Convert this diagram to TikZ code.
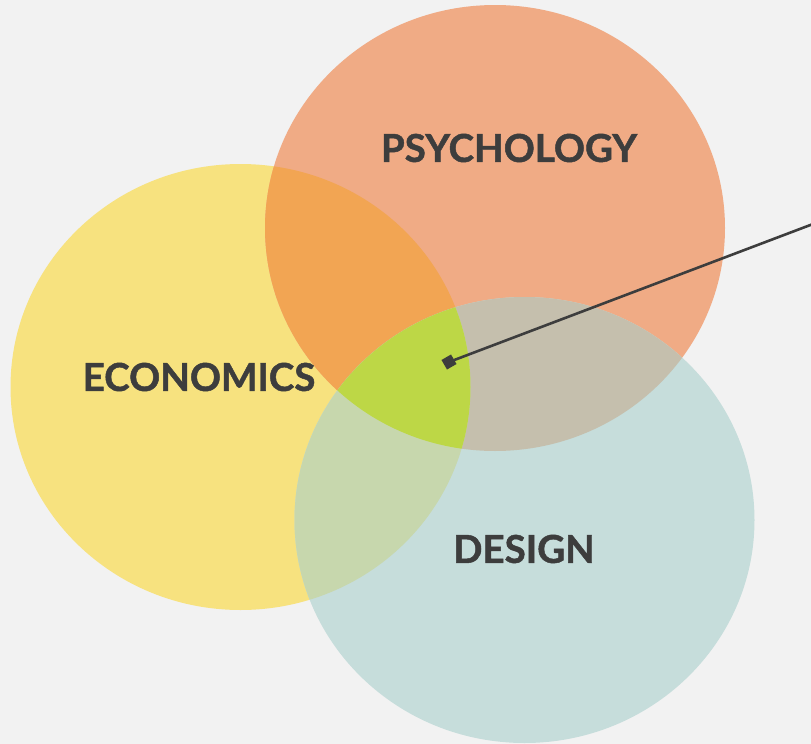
\documentclass[tikz,border=0pt]{standalone}
\usepackage{fontspec}
\setmainfont{Lato}
\newfontfamily\lblfont{Lato}[BoldFeatures={FakeBold=1.2}]
\definecolor{bg}{HTML}{F2F2F2}
\definecolor{psy}{HTML}{F0AB85}
\definecolor{eco}{HTML}{F7E27F}
\definecolor{des}{HTML}{C6DDDB}
\definecolor{ecopsy}{HTML}{F2A553}
\definecolor{psydes}{HTML}{C5BFAD}
\definecolor{ecodes}{HTML}{C7D7AD}
\definecolor{allthree}{HTML}{BDD746}
\definecolor{ink}{HTML}{3D3D3D}
\begin{document}
\begin{tikzpicture}[x=1pt,y=-1pt,
  lbl/.style={font=\lblfont\fontsize{38.5}{38.5}\selectfont\bfseries, text=ink, inner sep=0pt},
  mkstyle/.style={draw=none, fill=ink, minimum size=11pt, inner sep=0pt, rotate=30},
  conn/.style={draw=ink, line width=2.6pt}]
\fill[bg] (0,0) rectangle (811,744);
\useasboundingbox (0,0) rectangle (811,744);
\def\cpsy{(495,228) ellipse [x radius=230pt, y radius=223pt]}
\def\ceco{(240.5,387) ellipse [x radius=230pt, y radius=223pt]}
\def\cdes{(524.5,520) ellipse [x radius=230pt, y radius=223pt]}
\fill[eco] \ceco;
\fill[psy] \cpsy;
\fill[des] \cdes;
\begin{scope}\clip \ceco; \fill[ecopsy] \cpsy; \end{scope}
\begin{scope}\clip \cpsy; \fill[psydes] \cdes; \end{scope}
\begin{scope}\clip \ceco; \fill[ecodes] \cdes; \end{scope}
\begin{scope}\clip \ceco; \clip \cpsy; \fill[allthree] \cdes; \end{scope}
\node[lbl] (psych) at (509,148) {PSYCHOLOGY};
\node[lbl] (econ) at (199,377) {ECONOMICS};
\node[lbl] (design) at (524,549) {DESIGN};
\node[mkstyle] (mk) at (449,362) {};
\coordinate (lend) at (813,224);
\draw[conn] (mk.center) -- (lend);
\end{tikzpicture}
\end{document}
